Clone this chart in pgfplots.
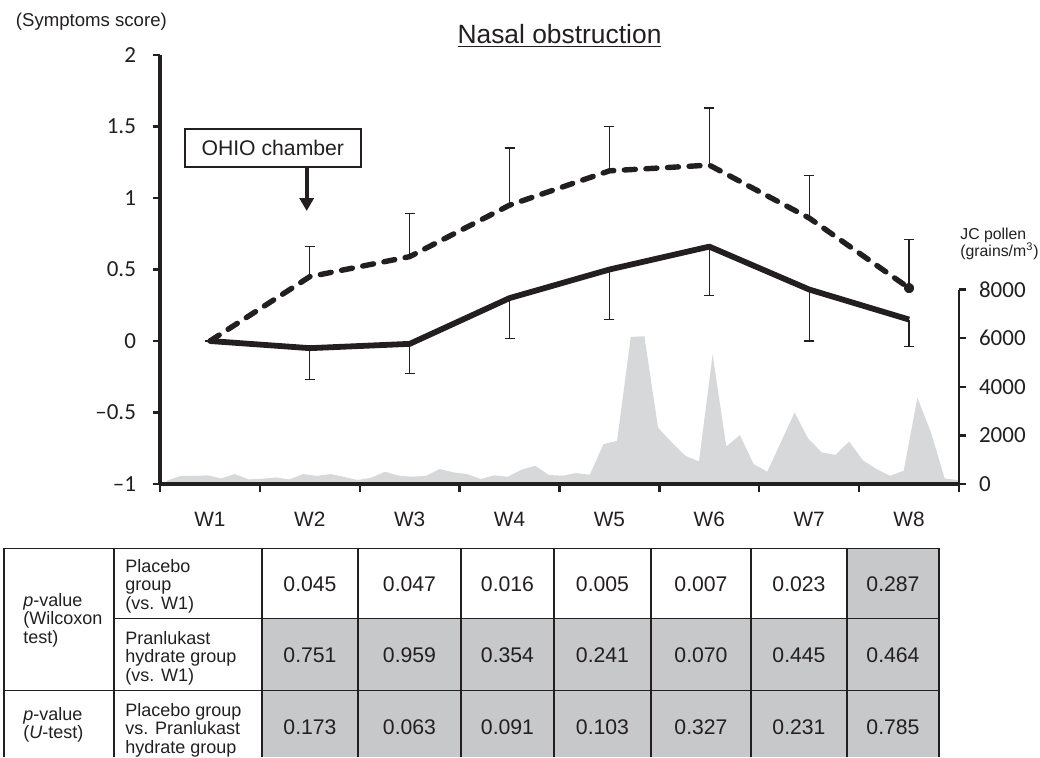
\documentclass[border=0pt]{standalone}
\usepackage{pgfplots}
\pgfplotsset{compat=1.18}
\usepackage{pgfplotstable}
\usepackage{fontspec}
\setmainfont{Liberation Sans}
\newfontfamily\calibri{Carlito}
\usetikzlibrary{arrows.meta}
\definecolor{ink}{HTML}{231F20}
\definecolor{pollen}{HTML}{D7D8DA}
\definecolor{cellgrey}{HTML}{C7C8CA}

\pgfplotstableread{
k p
0 135
1 330
2 330
3 355
4 230
5 410
6 190
7 220
8 270
9 190
10 410
11 330
12 410
13 290
14 165
15 260
16 505
17 340
18 300
19 340
20 615
21 480
22 410
23 205
24 355
25 300
26 590
27 750
28 370
29 340
30 450
31 380
32 1640
33 1775
34 6050
35 6080
36 2320
37 1710
38 1160
39 930
40 5330
41 1545
42 2010
43 820
44 505
45 1720
46 2940
47 1870
48 1300
49 1200
50 1750
51 980
52 615
53 340
54 545
55 3550
56 2120
57 230
58 160
}\pollentab

\pgfplotstableread{
x y e
1 0 0
2 0.45 0.21
3 0.59 0.30
4 0.95 0.40
5 1.19 0.31
6 1.23 0.40
7 0.86 0.30
8 0.37 0.34
}\placebo

\pgfplotstableread{
x y e
1 0 0
2 -0.05 0.22
3 -0.02 0.21
4 0.30 0.28
5 0.50 0.35
6 0.66 0.34
7 0.36 0.36
8 0.15 0.19
}\pranlukast

\begin{document}
\begin{tikzpicture}
% pollen axis (right)
\begin{axis}[
  scale only axis, width=399.5pt, height=214.5pt,
  xmin=-0.49, xmax=58.05, ymin=0, ymax=17650,
  axis x line=none, axis y line*=right,
  y axis line style={draw=none},
  ytick={0,2000,4000,6000,8000},
  yticklabels={0,2000,4000,6000,8000},
  scaled y ticks=false,
  yticklabel style={font=\calibri\fontsize{11.5}{12}\selectfont, text=ink, anchor=west},
  yticklabel shift=3pt,
  tick align=outside, major tick length=3.5pt,
  tick style={line width=1.2pt, ink},
  clip=false,
]
\addplot[fill=pollen, draw=none] table[x=k,y=p]{\pollentab} \closedcycle;
\draw[line width=1.3pt, ink] (axis cs:58.05,0) -- (axis cs:58.05,8000);
\end{axis}
% main axis
\begin{axis}[
  scale only axis, width=399.5pt, height=214.5pt,
  xmin=0.5, xmax=8.5, ymin=-1, ymax=2,
  axis x line*=bottom, axis y line*=left,
  axis line style={line width=1.6pt, ink},
  xtick={1,2,3,4,5,6,7,8},
  xticklabels={W1,W2,W3,W4,W5,W6,W7,W8},
  minor xtick={0.5,1.5,2.5,3.5,4.5,5.5,6.5,7.5,8.5},
  major x tick style={draw=none},
  minor tick length=4pt,
  xticklabel style={font=\fontsize{10.4}{12}\selectfont, text=ink, anchor=base, yshift=-17.5pt},
  ytick={-1,-0.5,0,0.5,1,1.5,2},
  yticklabels={\textendash1,\textendash0.5,0,0.5,1,1.5,2},
  yticklabel style={font=\calibri\fontsize{11.5}{12}\selectfont, text=ink, anchor=east},
  yticklabel shift=5pt,
  tick align=outside, major tick length=3.5pt,
  tick style={line width=1.2pt, ink},
  clip=false,
]
\addplot[ink, line width=2.7pt, dash pattern=on 5.5pt off 5.3pt, line cap=round, line join=round, mark=*, mark indices={8}, mark size=1.2pt, mark options={solid}] table[x=x,y=y]{\placebo};
\addplot[ink, line width=2.9pt, line join=round] table[x=x,y=y]{\pranlukast};
\addplot[ink, draw=none, mark=none, forget plot, error bars/.cd, y dir=plus, y explicit,
  error bar style={draw=ink, line width=0.6pt, solid},
  error mark options={draw=ink, rotate=90, mark size=2.5pt, line width=0.6pt, solid}]
  table[x=x,y=y,y error=e, skip first n=1]{\placebo};
\addplot[ink, draw=none, mark=none, forget plot, error bars/.cd, y dir=minus, y explicit,
  error bar style={draw=ink, line width=0.6pt, solid},
  error mark options={draw=ink, rotate=90, mark size=2.5pt, line width=0.6pt, solid}]
  table[x=x,y=y,y error=e, skip first n=1]{\pranlukast};
\end{axis}
\begin{scope}[x=1pt,y=1pt]
% titles
\node[text=ink, font=\fontsize{13.2}{15}\selectfont] at (199.75,224) {\underline{Nasal obstruction}};
\node[text=ink, font=\fontsize{9.3}{11}\selectfont] at (-34.3,231.1) {(Symptoms score)};
\node[text=ink, font=\fontsize{7.9}{8.5}\selectfont, align=left, anchor=west, inner sep=0pt] at (400,120) {JC pollen\\(grains/m\textsuperscript{3})};
% OHIO box
\draw[ink, line width=1pt, fill=white] (12.5,158.65) rectangle (100.35,177.35);
\node[text=ink, font=\fontsize{10.6}{12}\selectfont] at (56.4,168) {OHIO chamber};
\draw[ink, line width=2pt, -{Triangle[width=7pt,length=6.5pt]}] (73.35,158.65) -- (73.35,136.5);
% table fills
\fill[cellgrey] (343.5,-32.15) rectangle (389.5,-67.15);
\fill[cellgrey] (51,-67.15) rectangle (389.5,-136.5);
% table grid
\begin{scope}[ink, line width=0.75pt]
\draw (-78,-32.15) -- (389.5,-32.15);
\draw (-23,-67.15) -- (389.5,-67.15);
\draw (-78,-103.35) -- (389.5,-103.35);
\foreach \xx in {-78,-23,51,99,150.5,197,245.5,295.5,343.5,389.5}
  \draw (\xx,-32.15) -- (\xx,-136.5);
\end{scope}
% table text
\begin{scope}[every node/.style={text=ink, font=\fontsize{9}{9.2}\selectfont, align=left, anchor=west, inner sep=0pt}]
\node at (-68.5,-68) {\textit{p}-value\\(Wilcoxon\\test)};
\node at (-68.5,-120.5) {\textit{p}-value\\(\textit{U}-test)};
\node at (-17.5,-51) {Placebo\\group\\(vs. W1)};
\node at (-17.5,-87) {Pranlukast\\hydrate group\\(vs. W1)};
\node at (-17.5,-123) {Placebo group\\vs. Pranlukast\\hydrate group};
\end{scope}
\begin{scope}[every node/.style={text=ink, font=\fontsize{10.6}{12}\selectfont, inner sep=0pt}]
\foreach \cx/\a/\b/\c in {75/0.045/0.751/0.173, 124.75/0.047/0.959/0.063, 173.75/0.016/0.354/0.091, 221.25/0.005/0.241/0.103, 270.5/0.007/0.070/0.327, 319.5/0.023/0.445/0.231, 366.5/0.287/0.464/0.785}{
  \node at (\cx,-50) {\a};
  \node at (\cx,-85.5) {\b};
  \node at (\cx,-121.35) {\c};
}
\end{scope}
\pgfresetboundingbox
\path[use as bounding box] (-80,-136.5) rectangle (440,242);
\end{scope}
\end{tikzpicture}
\end{document}
